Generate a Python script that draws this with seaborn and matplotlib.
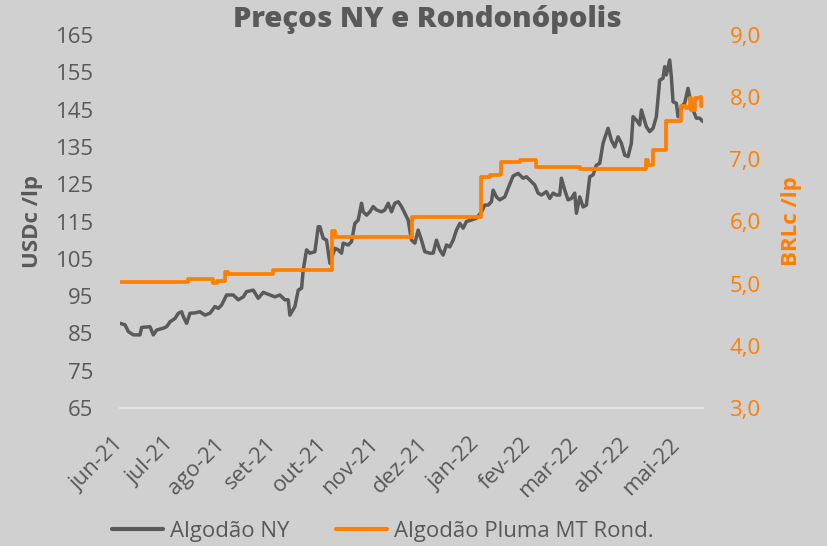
import numpy as np
import pandas as pd
import matplotlib
matplotlib.use("Agg")
import matplotlib.pyplot as plt
import matplotlib.transforms as mtransforms
from matplotlib.lines import Line2D
import seaborn as sns

# Algodão NY (USDc/lp)
NY_DATES = [
    "2021-06-01", "2021-06-04", "2021-06-06", "2021-06-09", "2021-06-13", "2021-06-14",
    "2021-06-19", "2021-06-21", "2021-06-23", "2021-06-27", "2021-06-29", "2021-07-01",
    "2021-07-04", "2021-07-06", "2021-07-08", "2021-07-09", "2021-07-11", "2021-07-13",
    "2021-07-16", "2021-07-19", "2021-07-22", "2021-07-25", "2021-07-28", "2021-07-30",
    "2021-08-01", "2021-08-04", "2021-08-08", "2021-08-11", "2021-08-14", "2021-08-16",
    "2021-08-20", "2021-08-23", "2021-08-26", "2021-08-30", "2021-09-02", "2021-09-05",
    "2021-09-08", "2021-09-10", "2021-09-11", "2021-09-14", "2021-09-16", "2021-09-18",
    "2021-09-19", "2021-09-21", "2021-09-23", "2021-09-26", "2021-09-28", "2021-09-29",
    "2021-10-01", "2021-10-03", "2021-10-05", "2021-10-08", "2021-10-10", "2021-10-12",
    "2021-10-13", "2021-10-16", "2021-10-18", "2021-10-20", "2021-10-22", "2021-10-24",
    "2021-10-25", "2021-10-27", "2021-10-29", "2021-10-31", "2021-11-02", "2021-11-05",
    "2021-11-07", "2021-11-09", "2021-11-11", "2021-11-13", "2021-11-15", "2021-11-17",
    "2021-11-19", "2021-11-21", "2021-11-23", "2021-11-25", "2021-11-27", "2021-11-29",
    "2021-12-01", "2021-12-04", "2021-12-06", "2021-12-08", "2021-12-10", "2021-12-12",
    "2021-12-14", "2021-12-16", "2021-12-18", "2021-12-20", "2021-12-22", "2021-12-24",
    "2021-12-26", "2021-12-29", "2022-01-01", "2022-01-04", "2022-01-06", "2022-01-08",
    "2022-01-10", "2022-01-11", "2022-01-13", "2022-01-15", "2022-01-18", "2022-01-20",
    "2022-01-23", "2022-01-26", "2022-01-29", "2022-01-31", "2022-02-03", "2022-02-05",
    "2022-02-07", "2022-02-09", "2022-02-12", "2022-02-14", "2022-02-16", "2022-02-18",
    "2022-02-20", "2022-02-21", "2022-02-23", "2022-02-25", "2022-02-27", "2022-03-01",
    "2022-03-02", "2022-03-04", "2022-03-06", "2022-03-08", "2022-03-10", "2022-03-12",
    "2022-03-14", "2022-03-16", "2022-03-18", "2022-03-20", "2022-03-21", "2022-03-23",
    "2022-03-25", "2022-03-27", "2022-03-29", "2022-03-31", "2022-04-02", "2022-04-04",
    "2022-04-05", "2022-04-07", "2022-04-09", "2022-04-10", "2022-04-13", "2022-04-15",
    "2022-04-17", "2022-04-19", "2022-04-21", "2022-04-23", "2022-04-24", "2022-04-25",
    "2022-04-27", "2022-04-28", "2022-04-29", "2022-05-01", "2022-05-02", "2022-05-04",
    "2022-05-06", "2022-05-08", "2022-05-09", "2022-05-11", "2022-05-13", "2022-05-15",
    "2022-05-17",
]
NY_VALUES = [
    87.7, 87.3, 85.5, 84.6, 84.6, 86.6,
    86.8, 84.6, 85.9, 86.4, 86.8, 88.1,
    89.0, 90.4, 90.8, 89.5, 87.7, 90.4,
    90.5, 90.8, 89.9, 90.4, 92.2, 91.7,
    92.6, 95.3, 95.3, 94.0, 94.8, 96.2,
    96.6, 94.4, 96.0, 95.3, 94.8, 95.3,
    94.0, 94.0, 89.9, 92.2, 96.6, 97.1,
    102.0, 107.4, 106.5, 106.9, 113.6, 113.6,
    110.5, 110.0, 103.8, 107.8, 107.4, 106.5,
    109.2, 108.7, 109.6, 114.5, 115.4, 119.9,
    117.6, 116.7, 117.6, 119.0, 118.1, 117.6,
    118.1, 119.9, 117.6, 119.9, 120.3, 119.0,
    117.2, 115.4, 110.0, 109.2, 112.7, 110.0,
    106.9, 106.5, 106.5, 110.0, 107.4, 106.0,
    108.7, 108.2, 110.0, 112.7, 114.5, 113.2,
    115.0, 115.4, 115.9, 117.6, 119.4, 119.4,
    120.3, 123.4, 121.6, 120.8, 121.6, 123.9,
    127.2, 127.9, 126.6, 127.0, 125.7, 124.8,
    122.6, 122.1, 123.0, 121.2, 122.6, 122.1,
    122.1, 126.6, 123.4, 120.8, 121.2, 122.6,
    117.2, 121.6, 118.9, 119.4, 127.0, 127.5,
    130.1, 130.6, 136.0, 138.7, 140.0, 136.8,
    135.0, 137.7, 136.0, 132.8, 132.4, 136.0,
    143.1, 142.2, 140.9, 144.9, 140.4, 139.1,
    140.0, 143.1, 152.9, 153.4, 156.5, 154.3,
    158.3, 153.8, 147.1, 146.7, 143.1, 145.8,
    146.7, 150.7, 148.5, 144.9, 142.7, 142.7,
    141.8,
]

# Algodão Pluma MT Rond. (BRLc/lp), step series
MT_DATES = [
    "2021-06-01", "2021-07-12", "2021-07-27", "2021-07-29", "2021-08-03", "2021-08-05",
    "2021-09-01", "2021-10-06", "2021-10-08", "2021-11-23", "2022-01-04", "2022-01-09",
    "2022-01-15", "2022-01-16", "2022-01-27", "2022-02-06", "2022-03-04", "2022-04-13",
    "2022-04-14", "2022-04-17", "2022-04-25", "2022-05-04", "2022-05-07", "2022-05-09",
    "2022-05-10", "2022-05-12", "2022-05-15", "2022-05-16", "2022-05-17",
]
MT_VALUES = [
    5.02, 5.07, 5.01, 5.05, 5.18, 5.15,
    5.22, 5.84, 5.75, 6.07, 6.72, 6.75,
    6.77, 6.96, 6.99, 6.88, 6.84, 6.99,
    6.91, 7.15, 7.62, 7.85, 7.82, 7.98,
    7.79, 7.98, 8.01, 7.85, 7.85,
]

MONTH_LABELS = ["jun-21", "jul-21", "ago-21", "set-21", "out-21", "nov-21",
                "dez-21", "jan-22", "fev-22", "mar-22", "abr-22", "mai-22"]
LEFT_TICKS = [65, 75, 85, 95, 105, 115, 125, 135, 145, 155, 165]
RIGHT_TICKS = [3.0, 4.0, 5.0, 6.0, 7.0, 8.0, 9.0]

BG = "#d0d0d0"
GREY = "#5a5a5a"
ORANGE = "#ff7f00"
TXT = "#595959"
FS = 16

sns.set_theme(style="white", rc={"axes.facecolor": BG, "figure.facecolor": BG})
plt.rcParams["font.family"] = ["Open Sans", "DejaVu Sans"]

ny = pd.DataFrame({"date": pd.to_datetime(NY_DATES), "value": NY_VALUES})
mt = pd.DataFrame({"date": pd.to_datetime(MT_DATES), "value": MT_VALUES})

fig = plt.figure(figsize=(8.28, 5.46), dpi=100)
ax = fig.add_axes([120 / 828, 1 - 408 / 546, 583 / 828, 373 / 546])
ax2 = ax.twinx()
ax2.set_position(ax.get_position())

sns.lineplot(data=ny, x="date", y="value", ax=ax, color=GREY, linewidth=2.5)
sns.lineplot(data=mt, x="date", y="value", ax=ax2, color=ORANGE, linewidth=2.7,
             drawstyle="steps-post")

ax.set_xlim(pd.Timestamp("2021-06-01"), pd.Timestamp("2022-05-17"))
ax.set_ylim(65, 165)
ax2.set_ylim(3, 9)
ax.set_yticks(LEFT_TICKS)
ax2.set_yticks(RIGHT_TICKS)
ax2.set_yticklabels([f"{v:.1f}".replace(".", ",") for v in RIGHT_TICKS])

month_starts = pd.date_range("2021-06-01", periods=len(MONTH_LABELS), freq="MS")
ax.set_xticks(month_starts)
ax.set_xticklabels(MONTH_LABELS, rotation=45, ha="right", va="center",
                   rotation_mode="anchor")
shift = mtransforms.ScaledTranslation(6 / 72, 0, fig.dpi_scale_trans)
for lbl in ax.get_xticklabels():
    lbl.set_transform(lbl.get_transform() + shift)

for a in (ax, ax2):
    a.set_xlabel("")
    a.set_ylabel("")
    for s in a.spines.values():
        s.set_visible(False)
ax.spines["bottom"].set_visible(True)
ax.spines["bottom"].set_color("#e6e6e6")
ax.spines["bottom"].set_linewidth(1.3)

ax.tick_params(axis="y", length=0, pad=19, labelsize=FS, labelcolor=TXT)
ax.tick_params(axis="x", length=0, pad=24, labelsize=FS, labelcolor=TXT)
ax2.tick_params(axis="y", length=0, pad=19, labelsize=FS, labelcolor=ORANGE)

fig.text(0.516, 1 - 19 / 546, "Preços NY e Rondonópolis", ha="center", va="center",
         fontsize=21, fontweight="heavy", color=TXT)
fig.text(33 / 828, 1 - 221 / 546, "USDc /lp", rotation=90, ha="center", va="center",
         fontsize=FS, fontweight="bold", color=TXT)
fig.text(792 / 828, 1 - 221 / 546, "BRLc /lp", rotation=90, ha="center", va="center",
         fontsize=FS, fontweight="bold", color=ORANGE)

handles = [Line2D([], [], color=GREY, linewidth=3),
           Line2D([], [], color=ORANGE, linewidth=3)]
leg = fig.legend(handles, ["Algodão NY", "Algodão Pluma MT Rond."],
                 loc="center", bbox_to_anchor=(0.462, 1 - 531 / 546), ncol=2,
                 frameon=False, fontsize=FS, handlelength=2.3,
                 handletextpad=0.3, columnspacing=2.1, borderaxespad=0)
for t in leg.get_texts():
    t.set_color(TXT)

fig.savefig("out.png", dpi=100, facecolor=BG)
